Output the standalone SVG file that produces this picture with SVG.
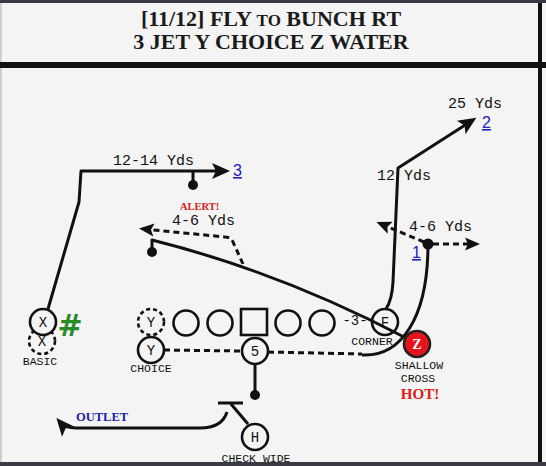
<svg xmlns="http://www.w3.org/2000/svg" width="546" height="466" viewBox="0 0 546 466">
<style>
.bg{fill:#f4f4f4}
.rt{fill:none;stroke:#111;stroke-width:3;stroke-linejoin:round;stroke-linecap:butt}
.ds{stroke-dasharray:6 4}
.pc{fill:#f4f4f4;stroke:#111;stroke-width:2.6}
.pd{fill:none;stroke:#111;stroke-width:2.6;stroke-dasharray:4 3}
.pt{font-family:"Liberation Mono",monospace;font-size:14px;fill:#111;text-anchor:middle}
.lb{font-family:"Liberation Mono",monospace;font-size:11.5px;fill:#111;text-anchor:middle}
.yd{font-family:"Liberation Mono",monospace;font-size:15px;fill:#111}
.num{font-family:"Liberation Sans",Arial,sans-serif;font-size:16px;fill:#2020c0;text-decoration:underline}
.ttl{font-family:"Liberation Serif","Times New Roman",serif;font-weight:bold;font-size:22px;fill:#1a1a1a;text-anchor:middle}
.dot{fill:#111}
</style>
<defs>
<marker id="ab" markerUnits="userSpaceOnUse" viewBox="-16 -9 22 18" refX="0" refY="0" markerWidth="22" markerHeight="18" orient="auto">
<path d="M4,0 L-14,-8 L-10,0 L-14,8 Z" fill="#111"/>
</marker>
<marker id="as" markerUnits="userSpaceOnUse" viewBox="-13 -8 20 16" refX="0" refY="0" markerWidth="20" markerHeight="16" orient="auto">
<path d="M5,0 L-10,-6.5 L-7,0 L-10,6.5 Z" fill="#111"/>
</marker>
</defs>
<rect class="bg" x="0" y="0" width="546" height="466"/>
<rect x="0" y="0" width="2" height="466" fill="#cfcfcf"/>
<rect x="0" y="0" width="546" height="3" fill="#3a3a42"/>
<rect x="0" y="462" width="546" height="4" fill="#3a3a42"/>
<rect x="0" y="62" width="546" height="6" fill="#111"/>
<rect x="538" y="3" width="4" height="459" fill="#111"/>
<g id="title">
<text class="ttl" x="271" y="26">[11/12] FLY <tspan font-size="17">TO</tspan> BUNCH RT</text>
<text class="ttl" x="271" y="49">3 JET Y CHOICE Z WATER</text>
</g>
<g id="connectors">
<path class="rt" d="M48 309 L79 202 L81 171 L226 171" marker-end="url(#ab)"/>
<path class="rt" d="M193 171 L193 184"/>
<circle class="dot" cx="193" cy="185" r="5"/>
<path class="rt" d="M386 309 Q392 300 393 282 L398 168 L473 120" marker-end="url(#ab)"/>
<path class="rt" d="M406 338 Q280 272 152 240 L152 250"/>
<circle class="dot" cx="152" cy="252" r="5"/>
<path class="rt ds" d="M243 264 L233 242 Q231 237 225 237 L144 229" marker-end="url(#as)"/>
<path class="rt ds" d="M164 350 L242 351 M268 352 L362 354"/>
<path class="rt" d="M362 355 C400 357 428 320 428 244"/>
<circle class="dot" cx="428" cy="244" r="5.5"/>
<path class="rt ds" d="M433 244 L475 244" marker-end="url(#as)"/>
<path class="rt ds" d="M424 242 L381 224" marker-end="url(#as)"/>
<path class="rt" d="M255 364 L255 392"/>
<circle class="dot" cx="255" cy="395" r="5"/>
<path class="rt" d="M248 424 L231 404 M218 403 L243 403"/>
<path class="rt" d="M227 412 Q222 428 200 428 L76 428 Q65 428 59 421" marker-end="url(#ab)"/>
</g>
<g id="node-x">
<circle class="pd" cx="42" cy="341" r="13"/>
<text class="pt" x="42" y="346">X</text>
<circle class="pc" cx="43" cy="322" r="13"/>
<text class="pt" x="43" y="327">X</text>
<text x="70" y="336" font-family="DejaVu Sans,sans-serif" font-weight="bold" font-size="30" fill="#2a8a2a" text-anchor="middle">#</text>
<text class="lb" x="40" y="365">BASIC</text>
</g>
<g id="node-y">
<circle class="pd" cx="151" cy="322" r="13"/>
<text class="pt" x="151" y="327">Y</text>
<circle class="pc" cx="151" cy="350" r="13"/>
<text class="pt" x="151" y="355">Y</text>
<text class="lb" x="151" y="372">CHOICE</text>
</g>
<g id="node-oline">
<circle class="pc" cx="186" cy="323" r="12.5"/>
<circle class="pc" cx="220" cy="323" r="12.5"/>
<rect class="pc" x="241" y="309" width="26" height="26"/>
<circle class="pc" cx="288" cy="323" r="12.5"/>
<circle class="pc" cx="322" cy="323" r="12.5"/>
<text class="pt" x="355" y="325">-3-</text>
</g>
<g id="node-f">
<circle cx="385" cy="322" r="13" fill="none" stroke="#111" stroke-width="2.6"/>
<text class="pt" x="385" y="327">F</text>
<text class="lb" x="372" y="345">CORNER</text>
</g>
<g id="node-z">
<circle cx="417" cy="344" r="13" fill="#e8141c" stroke="#222" stroke-width="2.6"/>
<text x="417" y="349" font-family="Liberation Serif,serif" font-weight="bold" font-size="14" fill="#fff" text-anchor="middle">Z</text>
<text class="lb" x="419" y="369">SHALLOW</text>
<text class="lb" x="418" y="382">CROSS</text>
<text x="420" y="399" font-family="Liberation Serif,serif" font-weight="bold" font-size="15" fill="#e01818" text-anchor="middle">HOT!</text>
</g>
<g id="node-c">
<circle class="pc" cx="255" cy="351" r="13"/>
<text class="pt" x="255" y="356">5</text>
</g>
<g id="node-h">
<circle class="pc" cx="255" cy="437" r="13"/>
<text class="pt" x="255" y="442">H</text>
<text class="lb" x="256" y="462">CHECK WIDE</text>
</g>
<g id="labels">
<text class="yd" x="113" y="165">12-14 Yds</text>
<text class="num" x="233" y="176">3</text>
<text class="yd" x="448" y="108">25 Yds</text>
<text class="num" x="482" y="128">2</text>
<text class="yd" x="377" y="180">12 Yds</text>
<text class="yd" x="409" y="231">4-6 Yds</text>
<text class="num" x="412" y="258">1</text>
<text x="180" y="210" font-family="Liberation Serif,serif" font-weight="bold" font-size="10.5" fill="#d81818">ALERT!</text>
<text class="yd" x="172" y="225">4-6 Yds</text>
<text x="76" y="421" font-family="Liberation Serif,serif" font-weight="bold" font-size="12.5" fill="#1c1cb4">OUTLET</text>
</g>
</svg>
